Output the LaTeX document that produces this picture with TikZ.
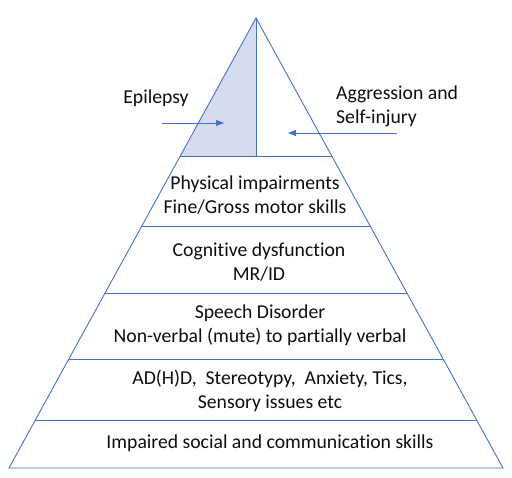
\documentclass[tikz,border=0pt]{standalone}
\usepackage{fontspec}
\setmainfont{Carlito}[Ligatures=NoCommon]
\usetikzlibrary{calc,arrows.meta}
\definecolor{lineblue}{HTML}{4472C4}
\definecolor{fillblue}{HTML}{D6DCF0}
\newcommand{\lvltext}{\fontsize{19.7}{24}\selectfont}

\begin{document}
\begin{tikzpicture}[x=1pt,y=-1pt,
    edge/.style={draw=lineblue, line width=0.9pt},
    pointer/.style={lineblue, line width=0.9pt, -{Triangle[length=8pt,width=6pt]}},
    label/.style={font=\lvltext, text=black!95, align=center, inner sep=0pt}]

\useasboundingbox (0,0) rectangle (512,478);

% pyramid corners
\coordinate (apex) at (256,18);
\coordinate (bl) at (9,468);
\coordinate (br) at (503,468);

% top left part shaded
\coordinate (tl) at ($(apex)!{138/450}!(bl)$);
\coordinate (tm) at (256,156);
\fill[fillblue] (apex) -- (tl) -- (tm) -- cycle;

% outline
\draw[edge] (apex) -- (bl) -- (br) -- cycle;
\draw[edge] (apex) -- (tm);

% level lines
\foreach \y in {156,226,293,359,420}
    \draw[edge] ($(apex)!{(\y-18)/450}!(bl)$) -- ($(apex)!{(\y-18)/450}!(br)$);

% side labels
\node[label] (epi) at (156,98) {Epilepsy};
\node[label, align=left, anchor=west] (agg) at (336,106) {Aggression and\\Self-injury};
\coordinate (epiS) at (162,123);
\coordinate (epiE) at (224,123);
\coordinate (aggS) at (397,133);
\coordinate (aggE) at (288,133);
\draw[pointer] (epiS) -- (epiE);
\draw[pointer] (aggS) -- (aggE);

% levels
\node[label] (phys) at (255,195) {Physical impairments\\Fine/Gross motor skills};
\node[label] (cogn) at (259,262) {Cognitive dysfunction\\MR/ID};
\node[label] (spch) at (260,325) {Speech Disorder\\Non-verbal (mute) to partially verbal};
\node[label] (adhd) at (270,391) {AD(H)D,\ \ Stereotypy,\ \ Anxiety, Tics,\\Sensory issues etc};
\node[label] (soc) at (270,443) {Impaired social and communication skills};

\end{tikzpicture}
\end{document}
